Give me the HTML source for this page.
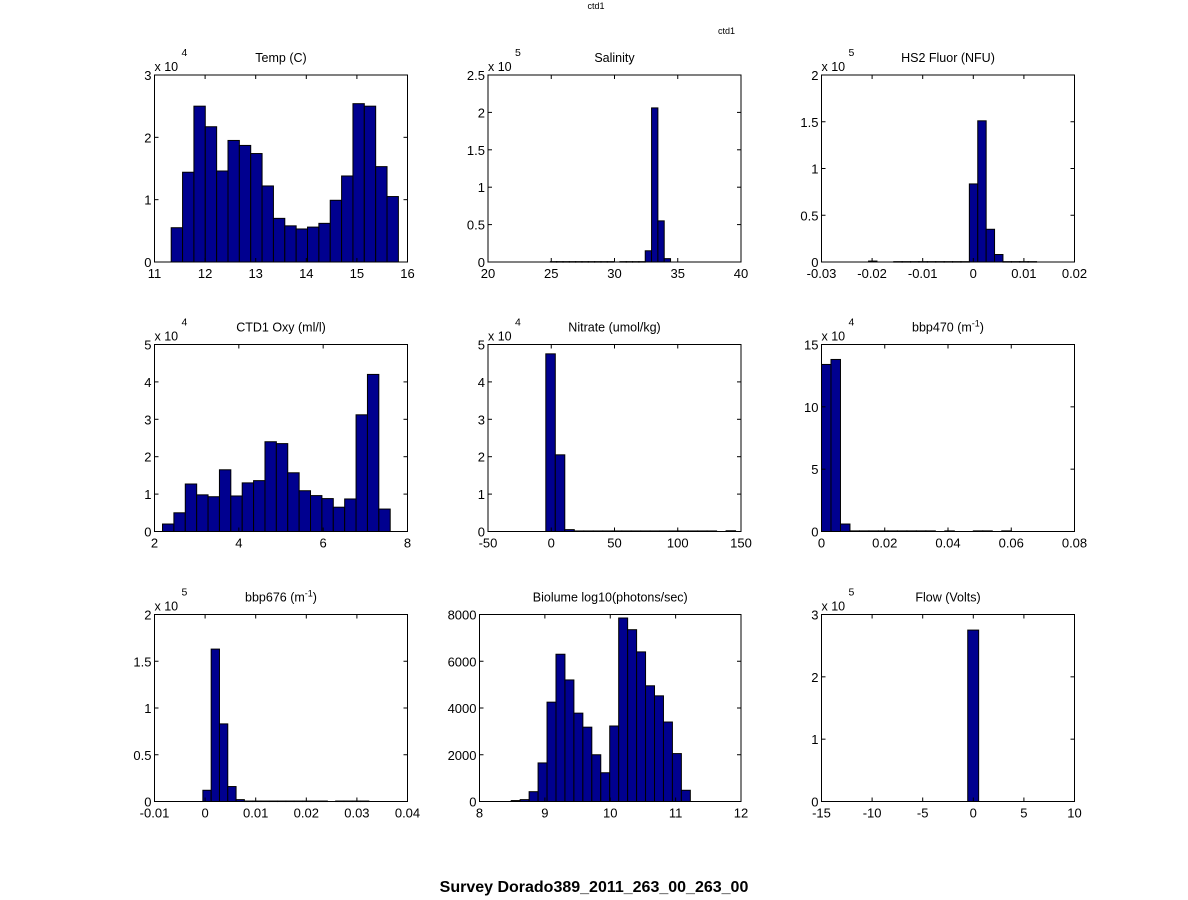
<!DOCTYPE html>
<html><head><meta charset="utf-8"><style>
html,body{margin:0;padding:0;background:#fff;}
svg{display:block;font-family:"Liberation Sans",Arial,sans-serif;}
</style></head><body>
<svg id="fig" width="1188" height="900" viewBox="0 0 1188 900">
<text x="596" y="9" font-size="9" text-anchor="middle">ctd1</text>
<text x="718" y="34" font-size="9">ctd1</text>
<text x="594" y="892" font-size="16" font-weight="bold" text-anchor="middle">Survey Dorado389_2011_263_00_263_00</text>
</svg>
<script>
// ---- data arrays ----
const tempBinStart = 11.33, tempBinWidth = 0.2245;
const tempCounts = [0.55,1.44,2.5,2.17,1.46,1.95,1.87,1.74,1.22,0.70,0.58,0.53,0.56,0.62,0.99,1.38,2.54,2.5,1.53,1.05];
const salBinStart = 24.93, salBinWidth = 0.5;
const salCounts = [0.005,0.005,0.005,0.005,0.005,0.005,0.005,0.005,0.005,0.005,0,0.005,0.005,0.005,0.005,0.15,2.06,0.55,0.045,0];
const fluorBinStart = -0.0207, fluorBinWidth = 0.00166;
const fluorCounts = [0.01,0,0,0.004,0.004,0.004,0.004,0.004,0.004,0.004,0.004,0.004,0.835,1.51,0.35,0.08,0.004,0.004,0.004,0.004];
const oxyBinStart = 2.19, oxyBinWidth = 0.27;
const oxyCounts = [0.2,0.5,1.27,0.98,0.93,1.65,0.95,1.3,1.36,2.4,2.35,1.57,1.09,0.96,0.88,0.65,0.87,3.12,4.2,0.6];
const nitBinStart = -4.3, nitBinWidth = 7.5;
const nitCounts = [4.75,2.05,0.05,0.015,0.015,0.015,0.015,0.015,0.015,0.015,0.015,0.015,0.015,0.015,0.015,0.015,0.015,0.015,0,0.02];
const b470BinStart = 0, b470BinWidth = 0.003;
const b470Counts = [13.4,13.8,0.6,0.05,0.05,0.05,0.05,0.05,0.05,0.05,0.05,0.05,0,0.05,0,0,0.05,0.05,0,0.05];
const b676BinStart = -0.00044, b676BinWidth = 0.00164;
const b676Counts = [0.12,1.63,0.83,0.16,0.02,0.005,0.005,0.005,0.005,0.005,0.005,0.005,0.005,0.005,0.005,0,0.005,0.005,0.005,0.005];
const bioBinStart = 8.485, bioBinWidth = 0.137;
const bioCounts = [40,80,420,1650,4250,6300,5200,3780,3180,2000,1230,3230,7850,7350,6400,4950,4520,3400,2050,480];
const flowBinStart = -0.55, flowBinWidth = 1.08;
const flowCounts = [2.75];

const tempXTicks = [11,12,13,14,15,16], tempYTicks = [0,1,2,3];
const salXTicks = [20,25,30,35,40], salYTicks = [0,0.5,1,1.5,2,2.5];
const fluorXTicks = [-0.03,-0.02,-0.01,0,0.01,0.02], fluorYTicks = [0,0.5,1,1.5,2];
const oxyXTicks = [2,4,6,8], oxyYTicks = [0,1,2,3,4,5];
const nitXTicks = [-50,0,50,100,150], nitYTicks = [0,1,2,3,4,5];
const b470XTicks = [0,0.02,0.04,0.06,0.08], b470YTicks = [0,5,10,15];
const b676XTicks = [-0.01,0,0.01,0.02,0.03,0.04], b676YTicks = [0,0.5,1,1.5,2];
const bioXTicks = [8,9,10,11,12], bioYTicks = [0,2000,4000,6000,8000];
const flowXTicks = [-15,-10,-5,0,5,10], flowYTicks = [0,1,2,3];

const panels = [
 {name:'temp', title:'Temp (C)', exp:'4', start:tempBinStart, w:tempBinWidth, counts:tempCounts, xt:tempXTicks, yt:tempYTicks, box:[154.5,75,253,187]},
 {name:'salinity', title:'Salinity', exp:'5', start:salBinStart, w:salBinWidth, counts:salCounts, xt:salXTicks, yt:salYTicks, box:[488,75,253,187]},
 {name:'fluor', title:'HS2 Fluor (NFU)', exp:'5', start:fluorBinStart, w:fluorBinWidth, counts:fluorCounts, xt:fluorXTicks, yt:fluorYTicks, box:[821.5,75,253,187]},
 {name:'oxy', title:'CTD1 Oxy (ml/l)', exp:'4', start:oxyBinStart, w:oxyBinWidth, counts:oxyCounts, xt:oxyXTicks, yt:oxyYTicks, box:[154.5,344.5,253,187]},
 {name:'nitrate', title:'Nitrate (umol/kg)', exp:'4', start:nitBinStart, w:nitBinWidth, counts:nitCounts, xt:nitXTicks, yt:nitYTicks, box:[488,344.5,253,187]},
 {name:'bbp470', title:'bbp470 (m', sup:'-1', exp:'4', start:b470BinStart, w:b470BinWidth, counts:b470Counts, xt:b470XTicks, yt:b470YTicks, box:[821.5,344.5,253,187]},
 {name:'bbp676', title:'bbp676 (m', sup:'-1', exp:'5', start:b676BinStart, w:b676BinWidth, counts:b676Counts, xt:b676XTicks, yt:b676YTicks, box:[154.5,614.5,253,187]},
 {name:'biolume', title:'Biolume log10(photons/sec)', exp:null, start:bioBinStart, w:bioBinWidth, counts:bioCounts, xt:bioXTicks, yt:bioYTicks, box:[479.5,614.5,261.5,187]},
 {name:'flow', title:'Flow (Volts)', exp:'5', start:flowBinStart, w:flowBinWidth, counts:flowCounts, xt:flowXTicks, yt:flowYTicks, box:[821.5,614.5,253,187]}
];

const NS='http://www.w3.org/2000/svg';
const svg=document.getElementById('fig');
function mk(tag, attrs, parent){const e=document.createElementNS(NS,tag);for(const k in attrs)e.setAttribute(k,attrs[k]);(parent||svg).appendChild(e);return e;}

panels.forEach(p=>{
  const [L,T,W,H]=p.box;
  const g=mk('g',{});
  
  
  const xmin=p.xt[0], xmax=p.xt[p.xt.length-1], ymax=p.yt[p.yt.length-1];
  const X=v=>L+(v-xmin)/(xmax-xmin)*W;
  const Y=v=>T+H-(v/ymax)*H;
  p.counts.forEach((c,i)=>{
    if(c<=0) return;
    const x0=X(p.start+i*p.w), x1=X(p.start+(i+1)*p.w);
    const y=Y(c);
    const r=mk('rect',{x:x0,y:y,width:x1-x0,height:Math.max(T+H-y,0.5),fill:'#00008F',stroke:'#000','stroke-width':1},g);
    
    
  });
  const box=mk('rect',{x:L,y:T,width:W,height:H,fill:'none',stroke:'#000','stroke-width':1},g);
  
  
  p.xt.forEach(v=>{
    const x=X(v);
    mk('line',{x1:x,y1:T+H,x2:x,y2:T+H-4,stroke:'#000'},g);
    mk('line',{x1:x,y1:T,x2:x,y2:T+4,stroke:'#000'},g);
    const t=mk('text',{x:x,y:T+H+16,'font-size':13,'text-anchor':'middle'},g);
    t.textContent=String(v);
    
    
  });
  p.yt.forEach(v=>{
    const y=Y(v);
    mk('line',{x1:L,y1:y,x2:L+4,y2:y,stroke:'#000'},g);
    mk('line',{x1:L+W,y1:y,x2:L+W-4,y2:y,stroke:'#000'},g);
    const t=mk('text',{x:L-3,y:y+5,'font-size':13,'text-anchor':'end'},g);
    t.textContent=String(v);
    
    
  });
  const tt=mk('text',{x:L+W/2,y:T-13,'font-size':12.5,'text-anchor':'middle'},g);
  tt.textContent=p.title;
  if(p.sup){
    const s=mk('tspan',{dy:-5,'font-size':9},tt); s.textContent=p.sup;
    const s2=mk('tspan',{dy:5},tt); s2.textContent=')';
  }
  
  
  if(p.exp){
    const e=mk('text',{x:L,y:T-4,'font-size':12.5},g);
    e.textContent='x 10';
    
    
    const e2=mk('text',{x:L+27,y:T-19,'font-size':10.5},g);
    e2.textContent=p.exp;
    
    
  }
});
</script>
</body></html>
